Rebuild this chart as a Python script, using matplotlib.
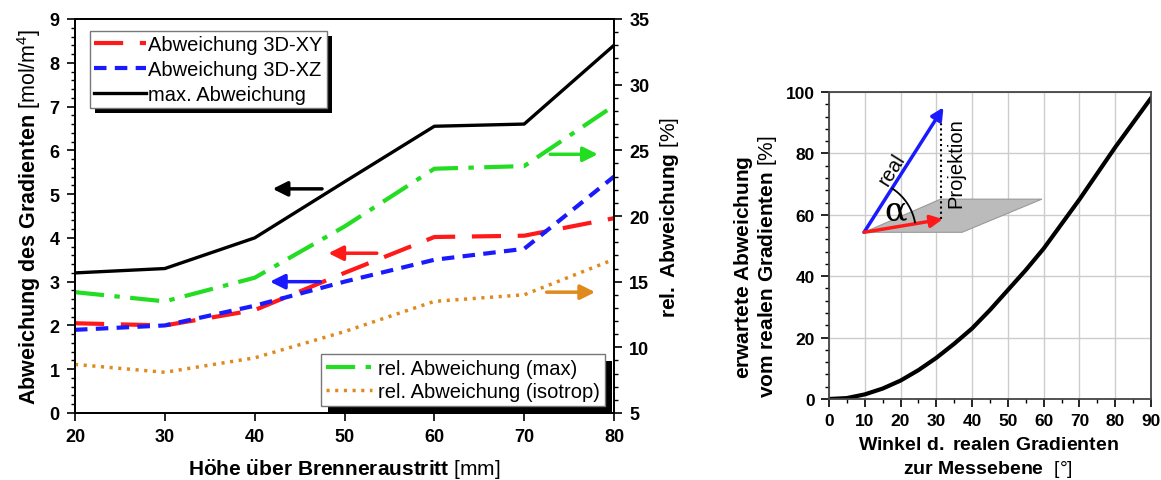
import matplotlib.pyplot as plt
from matplotlib.ticker import MultipleLocator
from matplotlib.patches import Rectangle, Polygon
import numpy as np

plt.rcParams['font.family'] = ['Liberation Sans', 'DejaVu Sans']
plt.rcParams['mathtext.fontset'] = 'custom'
plt.rcParams['mathtext.rm'] = 'Liberation Sans'
plt.rcParams['mathtext.bf'] = 'Liberation Sans:bold'
plt.rcParams['mathtext.it'] = 'Liberation Sans:italic'

# left panel: deviation of the gradient vs. height above burner exit
hoehe = [20, 30, 40, 50, 60, 70, 80]
abw_xy = [2.05, 2.0, 2.35, 3.2, 4.02, 4.05, 4.45]
abw_xz = [1.9, 2.0, 2.45, 3.0, 3.5, 3.75, 5.4]
abw_max = [3.2, 3.3, 4.0, 5.28, 6.55, 6.6, 8.4]
rel_max = [14.2, 13.5, 15.3, 19.2, 23.6, 23.8, 28.4]
rel_iso = [8.7, 8.1, 9.2, 11.2, 13.5, 14.0, 16.7]

# right panel: expected deviation vs. angle of the real gradient
winkel = [0, 5, 10, 15, 20, 25, 30, 35, 40, 45, 50, 55, 60, 65, 70, 75, 80, 85, 90]
erw_abw = [0, 0.3, 1.5, 3.4, 6.0, 9.4, 13.4, 18.0, 23.0, 29.0, 35.5, 42.0,
           49.0, 57.0, 65.0, 73.5, 82.0, 90.0, 98.0]

W, H = 1161, 481
fig = plt.figure(figsize=(W / 100, H / 100), dpi=100)


def px_axes(x0, y0, x1, y1):
    return fig.add_axes([x0 / W, 1 - y1 / H, (x1 - x0) / W, (y1 - y0) / H])


ax = px_axes(75, 20, 614, 414)
ax2 = ax.twinx()

red = '#ff1a1a'
blue = '#1a1aff'
green = '#22dd22'
orange = '#e08a1e'

l_xy, = ax.plot(hoehe, abw_xy, color=red, lw=3, dashes=(7, 4),
                label='Abweichung 3D-XY')
l_xz, = ax.plot(hoehe, abw_xz, color=blue, lw=3, dashes=(3, 2),
                label='Abweichung 3D-XZ')
l_max, = ax.plot(hoehe, abw_max, color='black', lw=2.4,
                 label='max. Abweichung')
l_rmax, = ax2.plot(hoehe, rel_max, color=green, lw=3, dashes=(7, 2.5, 1.3, 2.5),
                   label='rel. Abweichung (max)')
l_riso, = ax2.plot(hoehe, rel_iso, color=orange, lw=2.5, dashes=(0.9, 1.6),
                   label='rel. Abweichung (isotrop)')

ax.set_xlim(20, 80)
ax.set_ylim(0, 9)
ax2.set_ylim(5, 35)
ax.xaxis.set_major_locator(MultipleLocator(10))
ax.yaxis.set_major_locator(MultipleLocator(1))
ax.yaxis.set_minor_locator(MultipleLocator(0.2))
ax2.yaxis.set_major_locator(MultipleLocator(5))
ax2.yaxis.set_minor_locator(MultipleLocator(1))
for a in (ax, ax2):
    a.tick_params(which='major', direction='out', length=6, width=1.2,
                  labelsize=13, pad=5)
    a.tick_params(which='minor', direction='out', length=3, width=1)
    for lab in a.get_xticklabels() + a.get_yticklabels():
        lab.set_fontweight('bold')
    for s in a.spines.values():
        s.set_linewidth(1.3)

ax.set_xlabel(r'$\mathbf{H\ddot{o}he\ \ddot{u}ber\ Brenneraustritt}$ [mm]',
              fontsize=15, labelpad=9)
ax.set_ylabel(r'$\mathbf{Abweichung\ des\ Gradienten}$ [mol/m$^4$]',
              fontsize=15.5, labelpad=5)
ax2.set_ylabel(r'$\mathbf{rel.\ Abweichung}$ [%]', fontsize=15, labelpad=6)

# direction arrows pointing to the relevant axis
arrows = [
    (ax, (47.5, 5.12), (42, 5.12), 'black'),
    (ax, (53.6, 3.65), (48.2, 3.65), red),
    (ax, (47.3, 3.0), (41.7, 3.0), blue),
    (ax2, (72.9, 24.7), (78.2, 24.7), green),
    (ax2, (72.5, 14.2), (77.9, 14.2), orange),
]
for a, start, end, c in arrows:
    a.annotate('', xy=end, xytext=start,
               arrowprops=dict(arrowstyle='-|>', color=c, lw=2.5,
                               mutation_scale=22, shrinkA=0, shrinkB=0))

leg1 = ax2.legend(handles=[l_xy, l_xz, l_max], loc='upper left',
                  bbox_to_anchor=(0.028, 0.97), fontsize=14.5, fancybox=False,
                  edgecolor='#777777', framealpha=1, handlelength=2.6,
                  handletextpad=0.1, borderpad=0.2, labelspacing=0.3,
                  borderaxespad=0)
ax2.add_artist(leg1)
leg2 = ax2.legend(handles=[l_rmax, l_riso], loc='lower right',
                  bbox_to_anchor=(0.983, 0.018), fontsize=14.5, fancybox=False,
                  edgecolor='#777777', framealpha=1, handlelength=2.3,
                  handletextpad=0.3, borderpad=0.25, labelspacing=0.2,
                  borderaxespad=0)

# right panel
bx = px_axes(829, 93, 1151, 400)
bx.plot(winkel, erw_abw, color='black', lw=3)
bx.set_xlim(0, 90)
bx.set_ylim(0, 100)
bx.xaxis.set_major_locator(MultipleLocator(10))
bx.xaxis.set_minor_locator(MultipleLocator(5))
bx.yaxis.set_major_locator(MultipleLocator(20))
bx.yaxis.set_minor_locator(MultipleLocator(4))
bx.grid(True, which='major', color='#cccccc', lw=1)
bx.set_axisbelow(True)
bx.tick_params(which='major', direction='out', length=6, width=1.2,
               labelsize=12.5, pad=4)
bx.tick_params(which='minor', direction='out', length=3, width=1)
for lab in bx.get_xticklabels() + bx.get_yticklabels():
    lab.set_fontweight('bold')
for s in bx.spines.values():
    s.set_color('#444444')
    s.set_linewidth(1.3)
bx.set_xlabel('$\\mathbf{Winkel\\ d.\\ realen\\ Gradienten}$\n'
              '$\\mathbf{zur\\ Messebene}$  [°]', fontsize=14, va='center',
              linespacing=1.3)
bx.xaxis.set_label_coords(0.494, -0.19)
bx.set_ylabel('$\\mathbf{erwartete\\ Abweichung}$\n'
              '$\\mathbf{vom\\ realen\\ Gradienten}$ [%]', fontsize=15,
              va='center', linespacing=1.05)
bx.yaxis.set_label_coords(-0.227, 0.433)

# sketch of the gradient and its projection onto the measuring plane
plane = Polygon([(9.8, 54.3), (37.2, 54.3), (59.5, 65.1), (31.2, 65.1)],
                closed=True, facecolor='#bbbbbb', edgecolor='#999999',
                lw=0.8, zorder=3)
bx.add_patch(plane)
bx.plot([31.3, 31.3], [58.5, 94.5], color='black', lw=1.5, ls=(0, (1, 1.5)),
        zorder=4)
bx.annotate('', xy=(32, 95), xytext=(9.8, 54.3),
            arrowprops=dict(arrowstyle='-|>', color=blue, lw=2.5,
                            mutation_scale=18, shrinkA=0, shrinkB=0),
            zorder=5)
bx.annotate('', xy=(31.8, 58.6), xytext=(9.8, 54.3),
            arrowprops=dict(arrowstyle='-|>', color=red, lw=2.5,
                            mutation_scale=18, shrinkA=0, shrinkB=0),
            zorder=5)
t = np.radians(np.linspace(11, 57, 40))
bx.plot(9.8 + 14.5 * np.cos(t), 54.3 + 17.0 * np.sin(t), color='black',
        lw=1.3, zorder=5)
bx.text(18.5, 61.5, 'α', fontsize=24, ha='center', va='center',
        family='DejaVu Serif', zorder=6)
bx.text(17.5, 75, 'real', fontsize=14.5, rotation=58, ha='center',
        va='center', zorder=6)
bx.text(35.5, 77, 'Projektion', fontsize=14.5, rotation=90, ha='center',
        va='center', zorder=6)

# solid black drop shadows behind the legend boxes
fig.canvas.draw()
to_axes = ax2.transAxes.inverted()
for leg, off in ((leg1, 5), (leg2, 7)):
    bb = leg.get_frame().get_window_extent()
    (x0, y0), (x1, y1) = to_axes.transform([(bb.x0 + off, bb.y0 - off),
                                            (bb.x1 + off, bb.y1 - off)])
    shadow = Rectangle((x0, y0), x1 - x0, y1 - y0, transform=ax2.transAxes,
                       facecolor='black', edgecolor='none', zorder=4.9,
                       clip_on=False)
    ax2.add_artist(shadow)

fig.savefig('out.png', dpi=100)
